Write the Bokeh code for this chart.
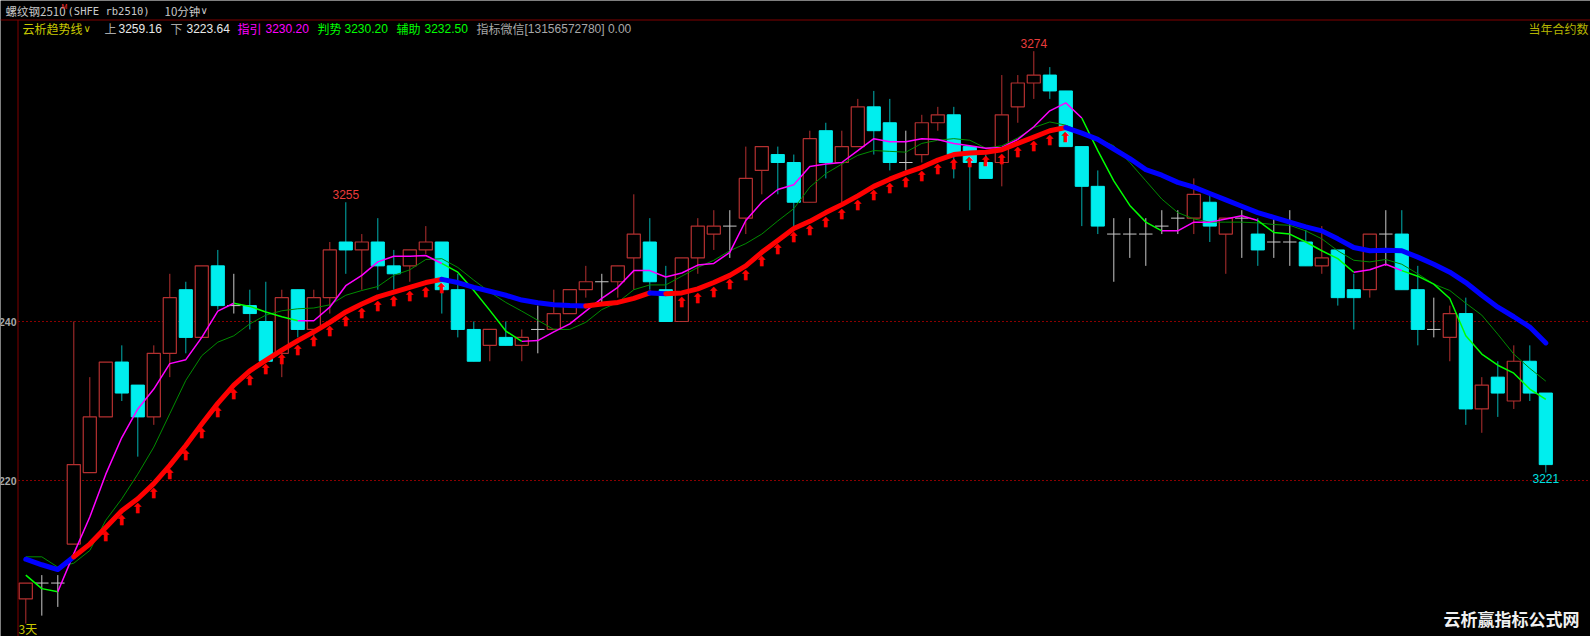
from bokeh.plotting import figure
from bokeh.models import Range1d, Label, LabelSet, ColumnDataSource
from bokeh.embed import file_html
from bokeh.resources import INLINE

# ---------------- data ----------------
opens = [3205.1, 3207.1, 3207.1, 3212.0, 3221.0, 3228.0, 3234.9, 3232.0, 3228.0, 3236.0,
         3244.0, 3238.0, 3247.0, 3242.0, 3242.0, 3240.0, 3236.0, 3244.0, 3239.0, 3243.0,
         3250.0, 3249.0, 3250.0, 3247.0, 3247.0, 3249.0, 3250.0, 3244.0, 3239.0, 3237.0,
         3238.0, 3237.0, 3239.0, 3239.0, 3241.0, 3244.0, 3245.0, 3245.0, 3248.0, 3250.0,
         3244.0, 3240.0, 3248.0, 3251.0, 3252.0, 3253.0, 3259.0, 3261.0, 3260.0, 3255.0,
         3264.0, 3260.0, 3262.0, 3267.0, 3265.0, 3260.0, 3261.0, 3265.0, 3266.0, 3262.0,
         3260.0, 3260.0, 3267.0, 3270.0, 3271.0, 3269.0, 3262.0, 3257.0, 3251.0, 3251.0,
         3251.0, 3252.0, 3253.0, 3253.0, 3255.0, 3251.0, 3253.0, 3251.0, 3250.0, 3250.0,
         3250.0, 3247.0, 3249.0, 3244.0, 3244.0, 3251.0, 3251.0, 3244.0, 3239.0, 3238.0,
         3241.0, 3229.0, 3233.0, 3230.0, 3235.0, 3231.0]
highs = [3207.1, 3208.1, 3208.1, 3240.0, 3233.0, 3234.9, 3237.0, 3232.0, 3237.0, 3246.0,
         3245.0, 3247.0, 3249.0, 3246.0, 3244.0, 3245.0, 3244.0, 3244.0, 3244.0, 3250.0,
         3255.0, 3251.0, 3253.0, 3249.0, 3249.0, 3252.0, 3250.0, 3246.0, 3240.0, 3239.0,
         3240.0, 3239.0, 3242.0, 3244.0, 3244.0, 3247.0, 3246.0, 3247.0, 3256.0, 3253.0,
         3247.0, 3248.0, 3253.0, 3254.0, 3254.0, 3262.0, 3262.0, 3262.0, 3261.0, 3264.0,
         3265.0, 3264.0, 3268.0, 3269.0, 3268.0, 3264.0, 3266.0, 3267.0, 3267.0, 3262.0,
         3261.0, 3271.0, 3271.0, 3274.0, 3272.0, 3269.0, 3262.0, 3259.0, 3253.0, 3253.0,
         3253.0, 3254.0, 3254.0, 3258.0, 3256.0, 3253.0, 3254.0, 3253.0, 3253.0, 3254.0,
         3251.5, 3252.0, 3249.0, 3246.0, 3251.0, 3254.0, 3254.0, 3247.0, 3243.0, 3242.0,
         3243.0, 3233.0, 3235.0, 3237.0, 3237.0, 3231.0]
lows = [3202.0, 3203.0, 3204.1, 3212.0, 3221.0, 3228.0, 3230.0, 3223.0, 3227.0, 3233.0,
        3236.0, 3238.0, 3241.5, 3241.0, 3239.0, 3235.0, 3233.0, 3238.0, 3237.5, 3241.0,
        3246.0, 3244.0, 3244.0, 3244.0, 3245.0, 3248.5, 3241.0, 3238.0, 3235.0, 3235.0,
        3237.0, 3235.0, 3236.0, 3239.0, 3241.0, 3243.0, 3242.0, 3243.0, 3244.0, 3244.0,
        3240.0, 3240.0, 3246.0, 3249.0, 3248.0, 3251.0, 3256.0, 3256.0, 3252.0, 3255.0,
        3258.0, 3255.0, 3262.0, 3261.0, 3259.0, 3259.0, 3260.0, 3264.0, 3258.0, 3254.0,
        3258.0, 3257.0, 3265.0, 3268.0, 3268.0, 3262.0, 3252.0, 3251.0, 3245.0, 3248.0,
        3247.0, 3251.0, 3251.0, 3251.0, 3250.0, 3246.0, 3248.0, 3247.0, 3248.0, 3247.0,
        3247.0, 3246.0, 3242.0, 3239.0, 3243.0, 3247.0, 3244.0, 3237.0, 3238.0, 3235.0,
        3227.0, 3226.0, 3228.0, 3229.0, 3230.0, 3221.0]
closes = [3207.1, 3207.1, 3207.1, 3222.0, 3228.0, 3234.9, 3231.0, 3228.0, 3236.0, 3243.0,
          3238.0, 3247.0, 3242.0, 3242.0, 3241.0, 3235.0, 3243.0, 3239.0, 3243.0, 3249.0,
          3249.0, 3250.0, 3247.0, 3246.0, 3249.0, 3250.0, 3244.0, 3239.0, 3235.0, 3239.0,
          3237.0, 3238.0, 3239.0, 3241.0, 3244.0, 3245.0, 3245.0, 3247.0, 3251.0, 3245.0,
          3240.0, 3248.0, 3252.0, 3252.0, 3252.0, 3258.0, 3262.0, 3260.0, 3255.0, 3263.0,
          3260.0, 3262.0, 3267.0, 3264.0, 3260.0, 3260.0, 3265.0, 3266.0, 3261.0, 3260.0,
          3258.0, 3266.0, 3270.0, 3271.0, 3269.0, 3262.0, 3257.0, 3252.0, 3251.0, 3251.0,
          3251.0, 3252.0, 3253.0, 3256.0, 3252.0, 3253.0, 3253.0, 3249.0, 3250.0, 3250.0,
          3247.0, 3248.0, 3243.0, 3243.0, 3251.0, 3251.0, 3244.0, 3239.0, 3239.0, 3241.0,
          3229.0, 3232.0, 3231.0, 3235.0, 3231.0, 3222.0]

# thick trend line (red = up state, blue = down state)
trend = [3210.1, 3209.4, 3208.8, 3210.4, 3212.0, 3214.1, 3216.2, 3217.7, 3219.6, 3221.9,
         3224.4, 3227.1, 3229.7, 3232.0, 3233.8, 3235.1, 3236.4, 3237.6, 3238.7, 3239.9,
         3241.2, 3242.2, 3243.1, 3243.7, 3244.3, 3244.9, 3245.3, 3244.9, 3244.3, 3243.8,
         3243.3, 3242.7, 3242.35, 3242.1, 3242.0, 3241.95, 3242.2, 3242.4, 3242.9, 3243.6,
         3243.5, 3243.6, 3244.1, 3244.9, 3245.8, 3247.0, 3248.7, 3250.2, 3251.7, 3252.6,
         3253.7, 3254.7, 3255.8, 3257.0, 3257.9, 3258.7, 3259.4, 3260.3, 3261.0, 3261.2,
         3261.3, 3261.6, 3262.4, 3263.2, 3264.0, 3264.4, 3263.7, 3262.9, 3261.7, 3260.5,
         3259.1, 3258.4, 3257.5, 3256.9, 3256.1, 3255.3, 3254.5, 3253.7, 3253.1, 3252.5,
         3251.9, 3251.4, 3250.4, 3249.3, 3248.9, 3248.95, 3248.9, 3248.1, 3247.2, 3246.2,
         3244.9, 3243.3, 3241.8, 3240.6, 3239.3, 3237.3]
trend_up = [0] * 4 + [1] * 23 + [0] * 9 + [1] * 4 + [0] + [1] * 25 + [0] * 30

# fast line 指引/判势 (magenta = up state, green = down state)
fast = [3208.1, 3206.4, 3206.0, 3210.8, 3215.4, 3220.8, 3225.4, 3229.0, 3231.5, 3234.7,
        3235.2, 3238.0, 3241.3, 3242.3, 3241.9, 3241.2, 3240.6, 3240.1, 3240.1, 3241.8,
        3244.5, 3245.8, 3247.5, 3248.2, 3248.2, 3248.3, 3247.3, 3246.2, 3243.9, 3241.4,
        3238.8, 3237.5, 3237.6, 3238.7, 3239.7, 3241.3, 3242.9, 3244.3, 3246.4, 3246.4,
        3245.6, 3246.1, 3247.1, 3247.3, 3248.7, 3252.7, 3255.0, 3256.6, 3257.2, 3259.5,
        3259.8, 3260.0, 3261.5, 3263.0, 3262.6, 3262.6, 3263.0, 3262.9, 3262.4, 3262.1,
        3261.8, 3261.9, 3262.9, 3264.5, 3266.5, 3267.5, 3265.6, 3261.5, 3257.7, 3254.6,
        3252.5, 3251.4, 3251.4, 3252.5, 3252.5, 3252.9, 3253.3, 3252.7, 3251.2, 3251.0,
        3250.0, 3248.9, 3247.9, 3246.2, 3246.5, 3247.2, 3246.4, 3245.7, 3244.7, 3242.9,
        3238.2, 3235.9, 3234.5, 3233.5, 3231.5, 3230.2]
fast_up = ([0] * 3 + [1] * 11 + [0] * 4 + [1] * 9 + [0] * 5 + [1] * 35 + [0] * 5
           + [1] * 6 + [0] * 6 + [1] * 3 + [0] * 9)

# slow line 辅助
slow = [3210.4, 3210.4, 3209.1, 3209.6, 3211.2, 3215.0, 3217.7, 3220.8, 3224.2, 3228.4,
        3232.6, 3235.7, 3237.4, 3238.2, 3239.7, 3240.8, 3241.35, 3241.6, 3241.7, 3242.1,
        3243.3, 3243.9, 3244.4, 3245.8, 3246.5, 3247.8, 3247.9, 3246.8, 3245.2, 3243.7,
        3242.4, 3241.3, 3240.15, 3239.0, 3239.0, 3239.9, 3241.5, 3242.4, 3244.0, 3244.6,
        3244.6, 3245.7, 3246.8, 3247.7, 3248.9, 3249.8, 3251.0, 3252.65, 3254.2, 3256.9,
        3258.6, 3259.8, 3260.9, 3261.5, 3261.4, 3261.3, 3262.4, 3262.8, 3263.0, 3262.8,
        3261.8, 3262.1, 3263.1, 3264.4, 3265.1, 3264.7, 3263.8, 3263.0, 3262.1, 3260.0,
        3257.7, 3255.4, 3253.7, 3252.9, 3252.5, 3252.5, 3252.5, 3252.4, 3252.2, 3252.1,
        3251.4, 3250.4, 3248.9, 3247.7, 3247.5, 3247.8, 3247.2, 3246.0, 3244.7, 3243.9,
        3242.3, 3240.8, 3238.4, 3235.9, 3234.1, 3232.5]

arrow_idx = list(range(5, 27)) + list(range(41, 66))
grid_prices = [3240, 3220]
grid_labels = ["240", "220"]
peak_idx = [20, 63]
trough_idx = [95]

# ---------------- geometry helpers (reference pixel -> data) ----------------
PX_PER_PRICE = 7.95

def px2x(px):
    return (px - 25.3) / 16.0

def py2y(py):
    return 3240.0 - (py - 321.0) / PX_PER_PRICE

W, H = 1590, 636
p = figure(width=W, height=H, x_range=Range1d(px2x(0), px2x(W)),
           y_range=Range1d(py2y(H), py2y(0)), output_backend="svg",
           toolbar_location=None, min_border=0, x_axis_location=None,
           y_axis_location=None, background_fill_color="#000000",
           border_fill_color="#000000", outline_line_color=None)
p.grid.visible = False

RED = "#b43030"
CYAN = "#00eeee"
CYAN_W = "#00b0b0"
GRAY = "#c8c8c8"

# frame lines
p.segment(x0=[px2x(0)], y0=[py2y(19.5)], x1=[px2x(W)], y1=[py2y(19.5)],
          line_color="#800000", line_width=1)
p.segment(x0=[px2x(17.5)], y0=[py2y(19.5)], x1=[px2x(17.5)], y1=[py2y(H + 4)],
          line_color="#800000", line_width=1)
for gp in grid_prices:
    p.segment(x0=[px2x(17.5)], y0=[gp], x1=[px2x(W)], y1=[gp],
              line_color="#8a0000", line_width=1, line_dash="2 2")
for gp, gl in zip(grid_prices, grid_labels):
    p.add_layout(Label(x=px2x(16), y=gp, text=gl, text_align="right",
                       text_baseline="middle", text_color="#a8a8a8",
                       text_font="Liberation Sans", text_font_size="10.5px",
                       text_font_style="bold"))

# candles
n = len(opens)
xs = list(range(n))
up = [i for i in xs if closes[i] > opens[i]]
dn = [i for i in xs if closes[i] < opens[i]]
dj = [i for i in xs if closes[i] == opens[i]]

def wick(ids, color):
    p.segment(x0=ids, x1=ids, y0=[lows[i] for i in ids], y1=[highs[i] for i in ids],
              line_color=color, line_width=1)

wick(up, RED)
wick(dn, CYAN_W)
wick(dj, GRAY)
BW = 0.82
p.vbar(x=up, width=BW, bottom=[opens[i] for i in up], top=[closes[i] for i in up],
       fill_color="#000000", line_color=RED, line_width=1.2)
p.vbar(x=dn, width=BW, top=[opens[i] for i in dn], bottom=[closes[i] for i in dn],
       fill_color=CYAN, line_color=CYAN, line_width=1)
p.segment(x0=[i - 0.42 for i in dj], x1=[i + 0.42 for i in dj],
          y0=[closes[i] for i in dj], y1=[closes[i] for i in dj],
          line_color=GRAY, line_width=1)

# colored polylines from state flags
def colored_runs(vals, flags, c_up, c_dn):
    out_x, out_y, out_c = [], [], []
    cur = None
    for i in range(1, len(vals)):
        c = c_up if flags[i] else c_dn
        if cur is None or cur[2] != c:
            if cur is not None:
                out_x.append(cur[0]); out_y.append(cur[1]); out_c.append(cur[2])
            cur = ([i - 1], [vals[i - 1]], c)
        cur[0].append(i)
        cur[1].append(vals[i])
    out_x.append(cur[0]); out_y.append(cur[1]); out_c.append(cur[2])
    return out_x, out_y, out_c

p.line(xs, slow, line_color="#008c00", line_width=1)
fx, fy, fc = colored_runs(fast, fast_up, "#ff00ff", "#00ff00")
p.multi_line(xs=fx, ys=fy, line_color=fc, line_width=1.5)
tx, ty, tc = colored_runs(trend, trend_up, "#ff0000", "#0000ff")
p.multi_line(xs=tx, ys=ty, line_color=tc, line_width=5, line_cap="round",
             line_join="round")

# red up-arrows (text) under the rising trend line
asrc = ColumnDataSource(dict(x=arrow_idx, y=[trend[i] for i in arrow_idx],
                             t=["⬆"] * len(arrow_idx)))
p.add_layout(LabelSet(x="x", y="y", text="t", source=asrc, text_align="center",
                      text_baseline="top", y_offset=-3, text_color="#ff0000",
                      text_font="DejaVu Sans", text_font_style="bold",
                      text_font_size="12.5px"))

# extreme labels
for i in peak_idx:
    p.add_layout(Label(x=i, y=highs[i], text="%d" % round(highs[i]), text_align="center",
                       text_baseline="bottom", y_offset=3, text_color="#e83c3c",
                       text_font="Liberation Sans", text_font_size="12px"))
for i in trough_idx:
    p.add_layout(Label(x=i, y=lows[i], text="%d" % round(lows[i]), text_align="center",
                       text_baseline="top", y_offset=-1, text_color="#00e0e0",
                       text_font="Liberation Sans", text_font_size="12px"))

# header texts
CJK = "Noto Sans CJK SC"
SANS = "Liberation Sans"
def lab(px, py, text, color, font=CJK, size="12px", style="normal", align="left"):
    p.add_layout(Label(x=px2x(px), y=py2y(py), text=text, text_color=color,
                       text_font=font, text_font_size=size, text_font_style=style,
                       text_align=align, text_baseline="middle"))

lab(5, 10, "螺纹钢2510", "#c8c8c8", size="11.5px")
lab(61, 6, "M", "#ff3030", font=SANS, size="7px")
lab(67, 10, "(SHFE rb2510)", "#c8c8c8", font="DejaVu Sans Mono", size="10.5px")
lab(164, 10, "10分钟", "#c8c8c8", size="11.5px")
lab(200, 10, "∨", "#c8c8c8", font="DejaVu Sans", size="10px")

lab(22, 28, "云析趋势线", "#c8c800")
lab(83, 28, "∨", "#c8c800", font="DejaVu Sans", size="10px")
lab(104, 28, "上", "#a8a8a8")
lab(118, 28, "3259.16", "#e8e8e8", font=SANS)
lab(170, 28, "下", "#a8a8a8")
lab(186, 28, "3223.64", "#e8e8e8", font=SANS)
lab(237, 28, "指引", "#ff00ff")
lab(265, 28, "3230.20", "#ff00ff", font=SANS)
lab(317, 28, "判势", "#00ff00")
lab(344, 28, "3230.20", "#00ff00", font=SANS)
lab(396, 28, "辅助", "#00ff00")
lab(424, 28, "3232.50", "#00ff00", font=SANS)
lab(476, 28, "指标微信", "#a8a8a8")
lab(524, 28, "[13156572780] 0.00", "#a8a8a8", font=SANS)
lab(1528, 28, "当年合约数", "#b4b400")

lab(18, 628, "3天", "#c8c800")
lab(1443, 618, "云析赢指标公式网", "#f0f0f0", size="17px", style="bold")

html = file_html(p, INLINE)
html = html.replace("<body>", '<body style="margin:0;padding:0;overflow:hidden;'
                    'background-color:#000000;">', 1)
open("out.html", "w").write(html)
